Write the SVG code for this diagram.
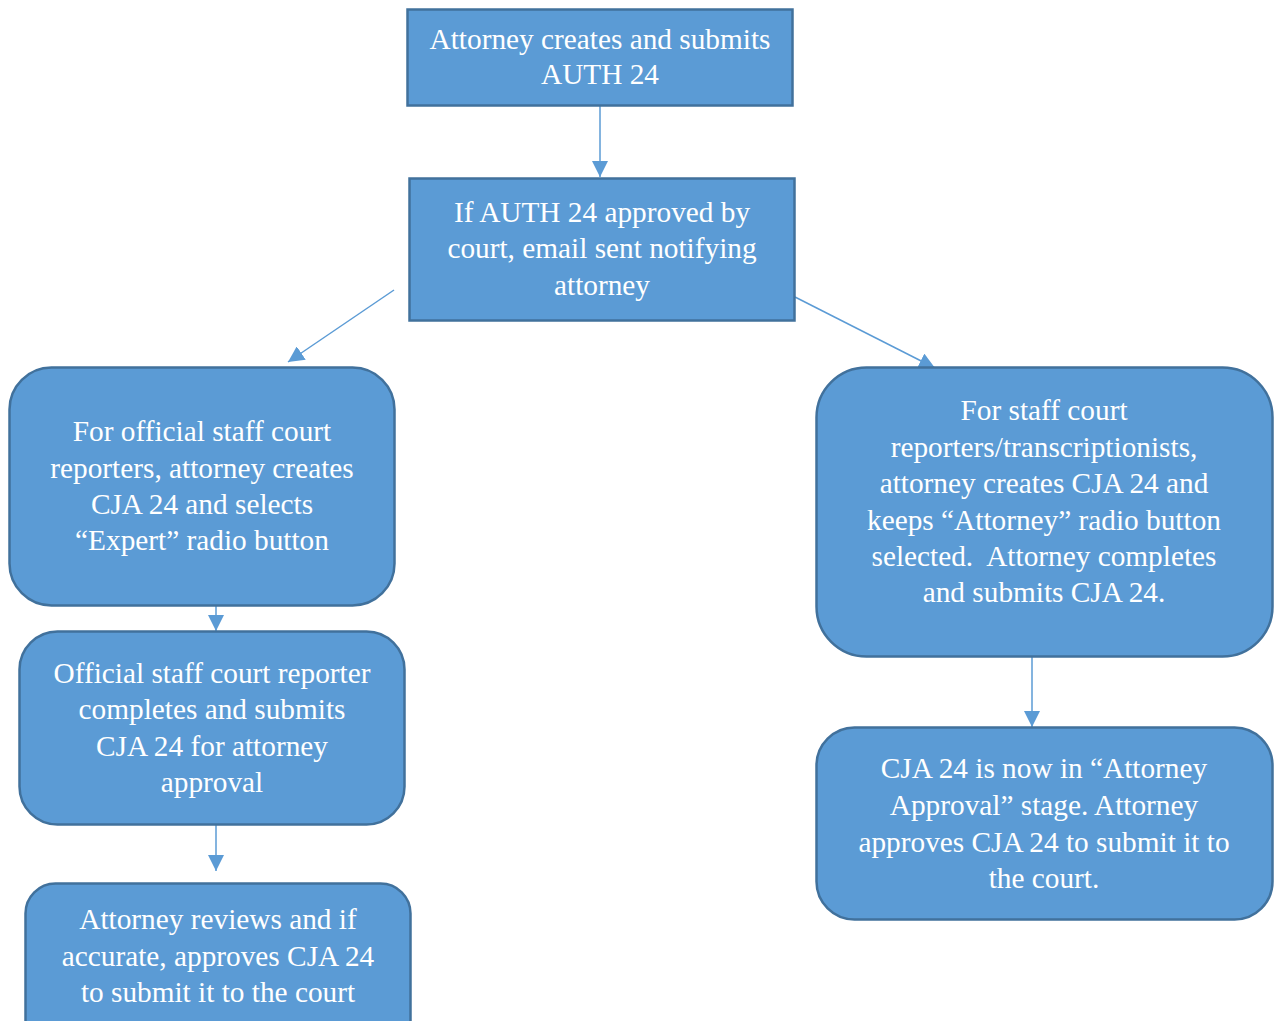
<svg xmlns="http://www.w3.org/2000/svg" width="1274" height="1021" viewBox="0 0 1274 1021">
<style>
.box{fill:#5B9BD5;stroke:#41719C;stroke-width:2.5}
.t{font-family:"Liberation Serif","Times New Roman",serif;font-size:29.3px;fill:#ffffff;text-anchor:middle}
.c{stroke:#5B9BD5;stroke-width:1.5;fill:none}
</style>
<defs>
<marker id="ah" markerUnits="userSpaceOnUse" markerWidth="16" markerHeight="16" refX="16" refY="8" orient="auto">
<path d="M0,0 L16,8 L0,16 z" fill="#5B9BD5"/>
</marker>
</defs>
<rect width="1274" height="1021" fill="#ffffff"/>
<g id="connectors">
<line class="c" x1="600" y1="106" x2="600" y2="177" marker-end="url(#ah)"/>
<line class="c" x1="394" y1="290" x2="288" y2="362" marker-end="url(#ah)"/>
<line class="c" x1="795" y1="297" x2="935" y2="368" marker-end="url(#ah)"/>
<line class="c" x1="216" y1="606" x2="216" y2="631" marker-end="url(#ah)"/>
<line class="c" x1="216" y1="825" x2="216" y2="871" marker-end="url(#ah)"/>
<line class="c" x1="1032" y1="657" x2="1032" y2="727" marker-end="url(#ah)"/>
</g>
<g id="n1">
<rect class="box" x="407.5" y="9.5" width="385" height="96"/>
<text class="t" x="600" y="49">Attorney creates and submits</text>
<text class="t" x="600" y="84">AUTH 24</text>
</g>
<g id="n2">
<rect class="box" x="409.5" y="178.5" width="385" height="142"/>
<text class="t" x="602" y="222">If AUTH 24 approved by</text>
<text class="t" x="602" y="258">court, email sent notifying</text>
<text class="t" x="602" y="295">attorney</text>
</g>
<g id="n3">
<rect class="box" x="9.5" y="367.5" width="385" height="238" rx="42"/>
<text class="t" x="202" y="441">For official staff court</text>
<text class="t" x="202" y="478">reporters, attorney creates</text>
<text class="t" x="202" y="514">CJA 24 and selects</text>
<text class="t" x="202" y="550">“Expert” radio button</text>
</g>
<g id="n4">
<rect class="box" x="19.5" y="631.5" width="385" height="193" rx="38"/>
<text class="t" x="212" y="683">Official staff court reporter</text>
<text class="t" x="212" y="719">completes and submits</text>
<text class="t" x="212" y="756">CJA 24 for attorney</text>
<text class="t" x="212" y="792">approval</text>
</g>
<g id="n5">
<rect class="box" x="25.5" y="883.5" width="385" height="170" rx="30"/>
<text class="t" x="218" y="929">Attorney reviews and if</text>
<text class="t" x="218" y="966">accurate, approves CJA 24</text>
<text class="t" x="218" y="1002">to submit it to the court</text>
</g>
<g id="n6">
<rect class="box" x="816.5" y="367.5" width="456" height="289" rx="50"/>
<text class="t" x="1044" y="420">For staff court</text>
<text class="t" x="1044" y="457">reporters/transcriptionists,</text>
<text class="t" x="1044" y="493">attorney creates CJA 24 and</text>
<text class="t" x="1044" y="530">keeps “Attorney” radio button</text>
<text class="t" x="1044" y="566">selected.&#160; Attorney completes</text>
<text class="t" x="1044" y="602">and submits CJA 24.</text>
</g>
<g id="n7">
<rect class="box" x="816.5" y="727.5" width="456" height="192" rx="38"/>
<text class="t" x="1044" y="778">CJA 24 is now in “Attorney</text>
<text class="t" x="1044" y="815">Approval” stage. Attorney</text>
<text class="t" x="1044" y="852">approves CJA 24 to submit it to</text>
<text class="t" x="1044" y="888">the court.</text>
</g>
</svg>
